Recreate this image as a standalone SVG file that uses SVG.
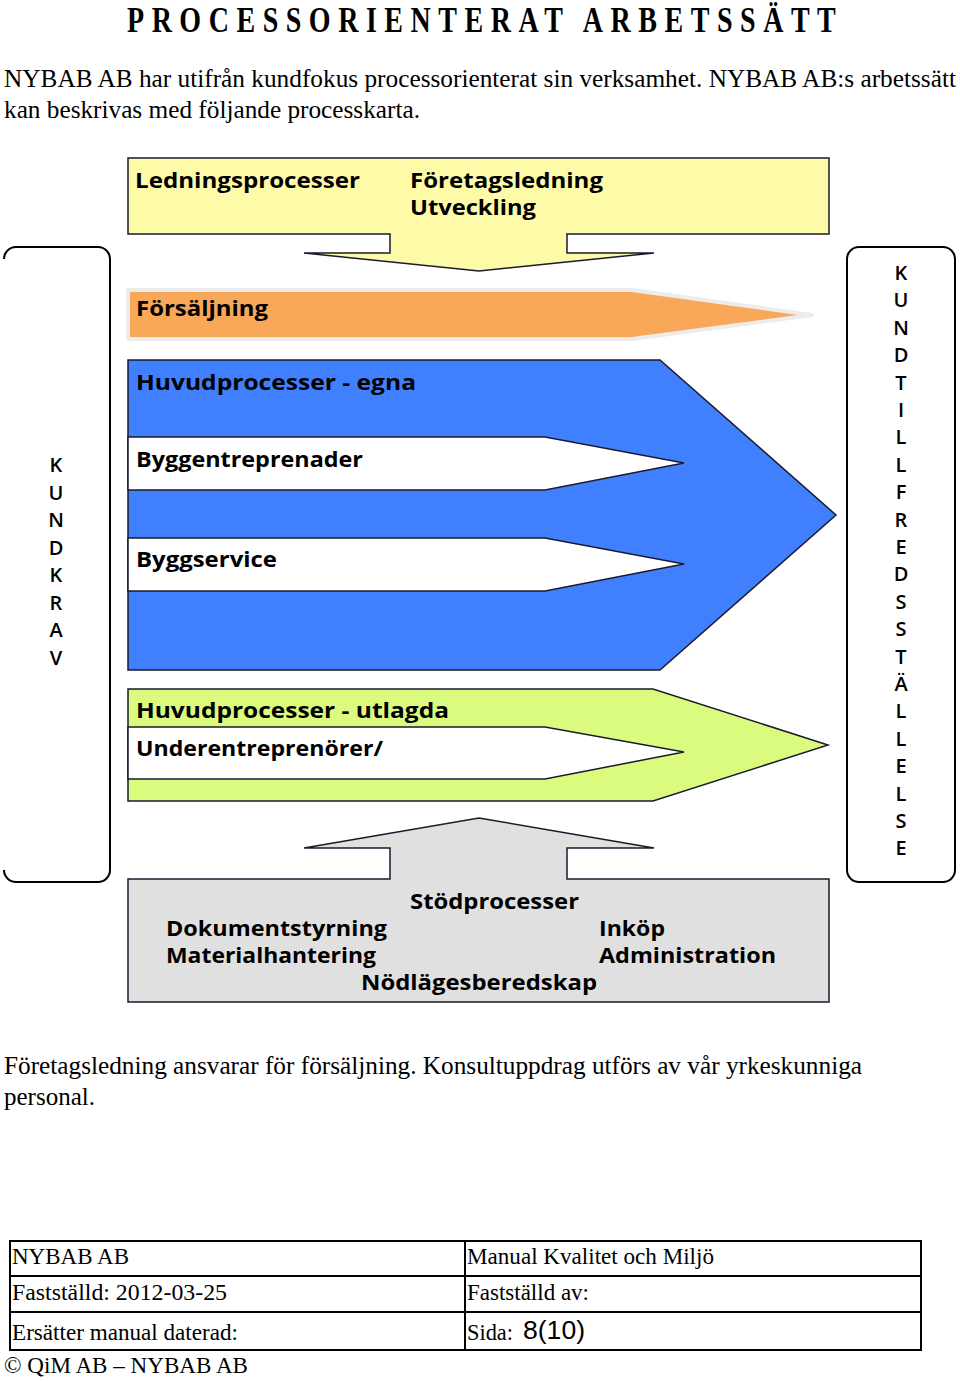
<svg xmlns="http://www.w3.org/2000/svg" width="960" height="1381" viewBox="0 0 960 1381">
<style>
.serif{font-family:"Liberation Serif","Times New Roman",serif;fill:#000}
.lbl{font-family:"Open Sans","Noto Sans","DejaVu Sans",sans-serif;font-weight:700;font-size:21px;fill:#000}
.vert{font-family:"Open Sans","Noto Sans","DejaVu Sans",sans-serif;font-weight:600;font-size:20px;fill:#000;text-anchor:middle}
.shape{stroke:#1a1a2e;stroke-width:1.5;stroke-linejoin:miter}
.box{fill:#fff;stroke:#000;stroke-width:2}
.tbl{fill:none;stroke:#000;stroke-width:2}
</style>
<rect width="960" height="1381" fill="#fff"/>
<text class="serif" transform="translate(127,32) scale(0.8,1)" x="0" y="0" font-size="35" font-weight="bold" textLength="886" lengthAdjust="spacing">PROCESSORIENTERAT ARBETSSÄTT</text>
<text class="serif" x="4" y="87" font-size="25" textLength="952" lengthAdjust="spacingAndGlyphs">NYBAB AB har utifrån kundfokus processorienterat sin verksamhet. NYBAB AB:s arbetssätt</text>
<text class="serif" x="4" y="118" font-size="25" textLength="416" lengthAdjust="spacingAndGlyphs">kan beskrivas med följande processkarta.</text>

<g id="kundkrav">
<path class="box" fill="none" d="M4,259 A12,12 0 0 1 16,247 L98,247 A12,12 0 0 1 110,259 L110,870 A12,12 0 0 1 98,882 L16,882 A12,12 0 0 1 4,870"/>
<text class="vert" x="56" y="472">K</text>
<text class="vert" x="56" y="499.5">U</text>
<text class="vert" x="56" y="527">N</text>
<text class="vert" x="56" y="554.5">D</text>
<text class="vert" x="56" y="582">K</text>
<text class="vert" x="56" y="609.5">R</text>
<text class="vert" x="56" y="637">A</text>
<text class="vert" x="56" y="664.5">V</text>
</g>

<g id="kundtillfredsstallelse">
<rect class="box" x="847" y="247" width="108" height="635" rx="12"/>
<text class="vert" x="901" y="280">K</text>
<text class="vert" x="901" y="307.4">U</text>
<text class="vert" x="901" y="334.8">N</text>
<text class="vert" x="901" y="362.2">D</text>
<text class="vert" x="901" y="389.6">T</text>
<text class="vert" x="901" y="417">I</text>
<text class="vert" x="901" y="444.4">L</text>
<text class="vert" x="901" y="471.8">L</text>
<text class="vert" x="901" y="499.2">F</text>
<text class="vert" x="901" y="526.6">R</text>
<text class="vert" x="901" y="554">E</text>
<text class="vert" x="901" y="581.4">D</text>
<text class="vert" x="901" y="608.8">S</text>
<text class="vert" x="901" y="636.2">S</text>
<text class="vert" x="901" y="663.6">T</text>
<text class="vert" x="901" y="691">Ä</text>
<text class="vert" x="901" y="718.4">L</text>
<text class="vert" x="901" y="745.8">L</text>
<text class="vert" x="901" y="773.2">E</text>
<text class="vert" x="901" y="800.6">L</text>
<text class="vert" x="901" y="828">S</text>
<text class="vert" x="901" y="855.4">E</text>
</g>

<g id="ledningsprocesser">
<polygon class="shape" fill="#fdfaa8" points="128,158 829,158 829,234 567,234 567,253 654,253 479,271 304,253 390,253 390,234 128,234"/>
<text class="lbl" x="135" y="188" textLength="225" lengthAdjust="spacingAndGlyphs">Ledningsprocesser</text>
<text class="lbl" x="410" y="188" textLength="193" lengthAdjust="spacingAndGlyphs">Företagsledning</text>
<text class="lbl" x="410" y="215" textLength="126" lengthAdjust="spacingAndGlyphs">Utveckling</text>
</g>

<g id="forsaljning">
<polygon fill="#f8a858" stroke="#ececec" stroke-width="4" stroke-linejoin="round" points="128,290 632,290 812,315 632,339 128,339"/>
<text class="lbl" x="136" y="316" textLength="132" lengthAdjust="spacingAndGlyphs">Försäljning</text>
</g>

<g id="huvudprocesser-egna">
<polygon class="shape" fill="#4080ff" points="128,360 660,360 836,515 660,670 128,670"/>
<polygon class="shape" fill="#fff" points="128,437 545,437 684,463 545,490 128,490"/>
<polygon class="shape" fill="#fff" points="128,538 545,538 684,564 545,591 128,591"/>
<text class="lbl" x="136" y="390" textLength="280" lengthAdjust="spacingAndGlyphs">Huvudprocesser - egna</text>
<text class="lbl" x="136" y="467" textLength="227" lengthAdjust="spacingAndGlyphs">Byggentreprenader</text>
<text class="lbl" x="136" y="567" textLength="141" lengthAdjust="spacingAndGlyphs">Byggservice</text>
</g>

<g id="huvudprocesser-utlagda">
<polygon class="shape" fill="#dbfb7e" points="128,689 653,689 828,745 653,801 128,801"/>
<polygon class="shape" fill="#fff" points="128,727 545,727 684,752 545,779 128,779"/>
<text class="lbl" x="136" y="718" textLength="313" lengthAdjust="spacingAndGlyphs">Huvudprocesser - utlagda</text>
<text class="lbl" x="136" y="756" textLength="247" lengthAdjust="spacingAndGlyphs">Underentreprenörer/</text>
</g>

<g id="stodprocesser">
<polygon class="shape" fill="#e0e0e0" points="128,879 390,879 390,848 304,848 479,818 654,848 567,848 567,879 829,879 829,1002 128,1002"/>
<text class="lbl" x="410" y="909" textLength="169" lengthAdjust="spacingAndGlyphs">Stödprocesser</text>
<text class="lbl" x="166" y="936" textLength="221" lengthAdjust="spacingAndGlyphs">Dokumentstyrning</text>
<text class="lbl" x="599" y="936" textLength="66" lengthAdjust="spacingAndGlyphs">Inköp</text>
<text class="lbl" x="166" y="963" textLength="210" lengthAdjust="spacingAndGlyphs">Materialhantering</text>
<text class="lbl" x="599" y="963" textLength="177" lengthAdjust="spacingAndGlyphs">Administration</text>
<text class="lbl" x="361" y="990" textLength="236" lengthAdjust="spacingAndGlyphs">Nödlägesberedskap</text>
</g>

<g id="connectors"></g>

<text class="serif" x="4" y="1074" font-size="25" textLength="858" lengthAdjust="spacingAndGlyphs">Företagsledning ansvarar för försäljning. Konsultuppdrag utförs av vår yrkeskunniga</text>
<text class="serif" x="4" y="1105" font-size="25" textLength="91" lengthAdjust="spacingAndGlyphs">personal.</text>

<g id="footer">
<rect class="tbl" x="10" y="1241" width="911" height="109"/>
<line class="tbl" x1="10" y1="1276" x2="921" y2="1276"/>
<line class="tbl" x1="10" y1="1312" x2="921" y2="1312"/>
<line class="tbl" x1="465" y1="1241" x2="465" y2="1350" stroke-width="1.5"/>
<text class="serif" x="12" y="1264" font-size="23" textLength="117" lengthAdjust="spacingAndGlyphs">NYBAB AB</text>
<text class="serif" x="467" y="1264" font-size="23" textLength="247" lengthAdjust="spacingAndGlyphs">Manual Kvalitet och Miljö</text>
<text class="serif" x="12" y="1300" font-size="23" textLength="215" lengthAdjust="spacingAndGlyphs">Fastställd:  2012-03-25</text>
<text class="serif" x="467" y="1300" font-size="23" textLength="122" lengthAdjust="spacingAndGlyphs">Fastställd av:</text>
<text class="serif" x="12" y="1340" font-size="23" textLength="226" lengthAdjust="spacingAndGlyphs">Ersätter manual daterad:</text>
<text class="serif" x="467" y="1340" font-size="23" textLength="46" lengthAdjust="spacingAndGlyphs">Sida:</text>
<text x="523" y="1339" font-family="Liberation Sans, Arial, sans-serif" font-size="25" textLength="62" lengthAdjust="spacingAndGlyphs">8(10)</text>
<text class="serif" x="4" y="1373" font-size="23" textLength="244" lengthAdjust="spacingAndGlyphs">© QiM AB – NYBAB AB</text>
</g>
</svg>
